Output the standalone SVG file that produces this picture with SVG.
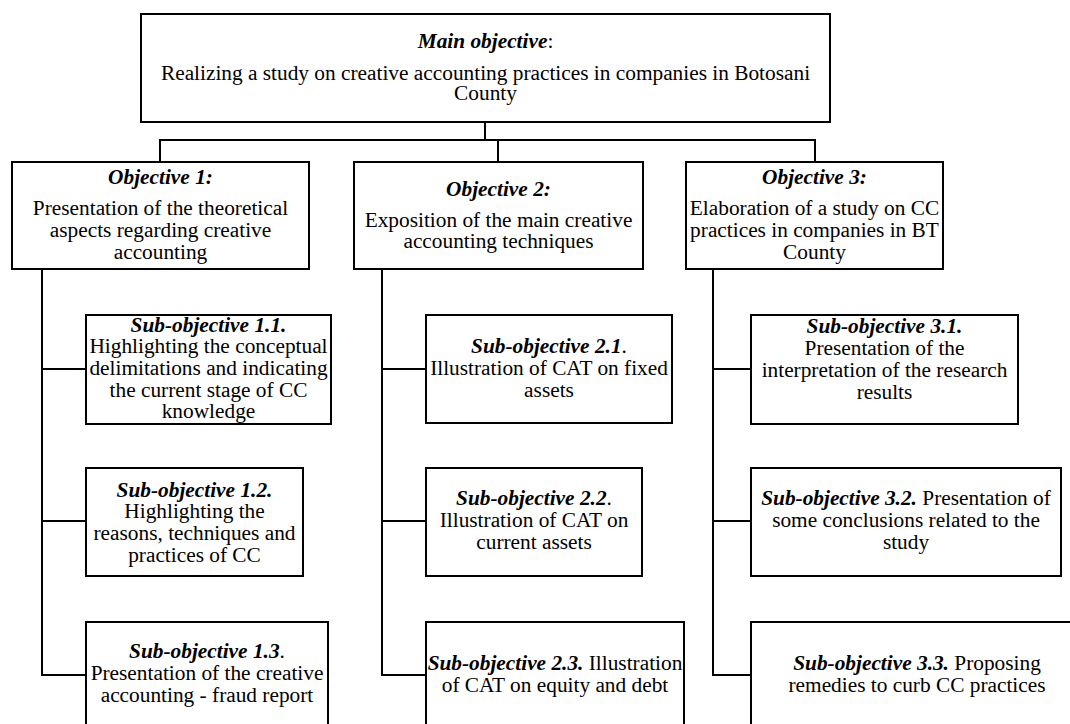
<svg xmlns="http://www.w3.org/2000/svg" width="1070" height="724" viewBox="0 0 1070 724">
<style>
.box{fill:#fff;stroke:#000;stroke-width:2}
.con{fill:none;stroke:#000;stroke-width:2}
text{font-family:"Liberation Serif","Times New Roman",serif;font-size:21.33px;fill:#000;text-anchor:middle}
.bi{font-weight:bold;font-style:italic}
</style>
<rect width="1070" height="724" fill="#fff"/>
<g id="connectors">
<path class="con" d="M485,122 V140 M160,162 V140 H815 V162 M498,140 V162"/>
<path class="con" d="M42,269 V675 H86 M42,369 H86 M42,521 H86"/>
<path class="con" d="M382,269 V675 H426 M382,369 H426 M382,521 H426"/>
<path class="con" d="M713,269 V675 H751 M713,369 H751 M713,521 H751"/>
</g>
<g id="main">
<rect class="box" x="141" y="14" width="689" height="108"/>
<text x="485.5" y="48"><tspan class="bi">Main objective</tspan>:</text>
<text x="485.5" y="80">Realizing a study on creative accounting practices in companies in Botosani</text>
<text x="485.5" y="100">County</text>
</g>
<g id="obj1">
<rect class="box" x="12" y="162" width="297" height="107"/>
<text x="160.5" y="184" class="bi">Objective 1:</text>
<text x="160.5" y="215">Presentation of the theoretical</text>
<text x="160.5" y="237">aspects regarding creative</text>
<text x="160.5" y="259">accounting</text>
</g>
<g id="obj2">
<rect class="box" x="354" y="162" width="289" height="107"/>
<text x="498.5" y="196" class="bi">Objective 2:</text>
<text x="498.5" y="227">Exposition of the main creative</text>
<text x="498.5" y="248">accounting techniques</text>
</g>
<g id="obj3">
<rect class="box" x="686" y="162" width="257" height="107"/>
<text x="814.5" y="184" class="bi">Objective 3:</text>
<text x="814.5" y="215">Elaboration of a study on CC</text>
<text x="814.5" y="237">practices in companies in BT</text>
<text x="814.5" y="259">County</text>
</g>
<g id="sub11">
<rect class="box" x="86" y="315" width="245" height="109"/>
<text x="208.5" y="332" class="bi">Sub-objective 1.1.</text>
<text x="208.5" y="353">Highlighting the conceptual</text>
<text x="208.5" y="375">delimitations and indicating</text>
<text x="208.5" y="397">the current stage of CC</text>
<text x="208.5" y="418">knowledge</text>
</g>
<g id="sub12">
<rect class="box" x="86" y="468" width="217" height="108"/>
<text x="194.5" y="497" class="bi">Sub-objective 1.2.</text>
<text x="194.5" y="518">Highlighting the</text>
<text x="194.5" y="540">reasons, techniques and</text>
<text x="194.5" y="562">practices of CC</text>
</g>
<g id="sub13">
<rect class="box" x="86" y="622" width="242" height="110"/>
<text x="207" y="658"><tspan class="bi">Sub-objective 1.3</tspan>.</text>
<text x="207" y="680">Presentation of the creative</text>
<text x="207" y="702">accounting - fraud report</text>
</g>
<g id="sub21">
<rect class="box" x="426" y="315" width="246" height="108"/>
<text x="549" y="353"><tspan class="bi">Sub-objective 2.1</tspan>.</text>
<text x="549" y="375">Illustration of CAT on fixed</text>
<text x="549" y="397">assets</text>
</g>
<g id="sub22">
<rect class="box" x="426" y="468" width="216" height="108"/>
<text x="534" y="505"><tspan class="bi">Sub-objective 2.2</tspan>.</text>
<text x="534" y="527">Illustration of CAT on</text>
<text x="534" y="549">current assets</text>
</g>
<g id="sub23">
<rect class="box" x="426" y="622" width="258" height="110"/>
<text x="555" y="670"><tspan class="bi">Sub-objective 2.3.</tspan> Illustration</text>
<text x="555" y="692">of CAT on equity and debt</text>
</g>
<g id="sub31">
<rect class="box" x="751" y="315" width="267" height="109"/>
<text x="884.5" y="333" class="bi">Sub-objective 3.1.</text>
<text x="884.5" y="355">Presentation of the</text>
<text x="884.5" y="377">interpretation of the research</text>
<text x="884.5" y="399">results</text>
</g>
<g id="sub32">
<rect class="box" x="751" y="468" width="310" height="108"/>
<text x="906" y="505"><tspan class="bi">Sub-objective 3.2.</tspan> Presentation of</text>
<text x="906" y="527">some conclusions related to the</text>
<text x="906" y="549">study</text>
</g>
<g id="sub33">
<rect class="box" x="751" y="622" width="340" height="110"/>
<text x="917" y="670"><tspan class="bi">Sub-objective 3.3.</tspan> Proposing</text>
<text x="917" y="692">remedies to curb CC practices</text>
</g>
</svg>
